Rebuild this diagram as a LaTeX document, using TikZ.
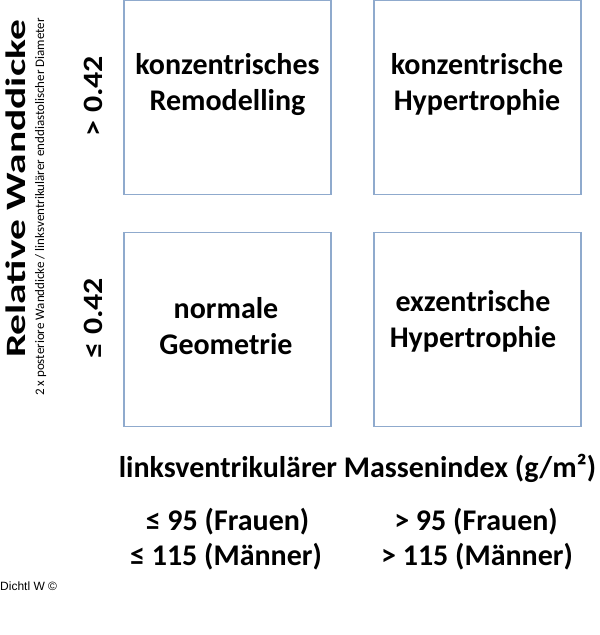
\documentclass[tikz,border=0pt]{standalone}
\usepackage{fontspec}
\setmainfont{Carlito}
\newfontfamily\arialfont{Liberation Sans}
\definecolor{boxblue}{RGB}{143,170,205}

\tikzset{
  geobox/.style={draw=boxblue, line width=1.2pt, minimum width=207pt,
    minimum height=194.5pt, inner sep=0pt},
  boxtext/.style={font=\bfseries\fontsize{30}{36}\selectfont, align=center,
    anchor=base, inner sep=0pt},
  axistext/.style={font=\bfseries\fontsize{30}{36}\selectfont, anchor=base,
    inner sep=0pt},
  sidetext/.style={font=\bfseries\fontsize{28}{34}\selectfont, anchor=base,
    inner sep=0pt, rotate=90},
  smalltext/.style={font=\fontsize{13}{15}\selectfont, anchor=base, inner sep=0pt}
}

\begin{document}
\begin{tikzpicture}[x=1pt,y=-1pt]
\useasboundingbox (0,0) rectangle (600,635);

% the four boxes
\coordinate (cTLPt) at (227.5,97.5);
\coordinate (cTRPt) at (477.5,97.5);
\coordinate (cBLPt) at (227.5,329.5);
\coordinate (cBRPt) at (477.5,329.5);
\foreach \v in {TL,TR,BL,BR}
{
    \node[geobox] (box\v) at (c\v Pt) {};
};

% texts in the boxes (base = last line)
\node[boxtext] (tTL) at (227.5,110) {konzentrisches\\Remodelling};
\node[boxtext] (tTR) at (477,110) {konzentrische\\Hypertrophie};
\node[boxtext] (tBL) at (226,354) {normale\\Geometrie};
\node[boxtext] (tBR) at (473,347) {exzentrische\\Hypertrophie};

% vertical axis
\node[sidetext, xscale=1.48] (yTitle) at (25,189) {Relative Wanddicke};
\node[smalltext, rotate=90] (yNote) at (44,207)
  {2 x posteriore Wanddicke / linksventrikulärer enddiastolischer Diameter};
\node[sidetext, xscale=1.14] (yHigh) at (102,96) {> 0.42};
\node[sidetext, xscale=1.14] (yLow) at (102,318) {≤ 0.42};

% horizontal axis
\node[axistext] (xTitle) at (357.5,477) {linksventrikulärer Massenindex (g/m²)};
\node[axistext] (xLowF) at (227.5,530) {≤ 95 (Frauen)};
\node[axistext] (xLowM) at (226,565) {≤ 115 (Männer)};
\node[axistext] (xHighF) at (476,530) {> 95 (Frauen)};
\node[axistext] (xHighM) at (477,565) {> 115 (Männer)};

\node[font=\arialfont\fontsize{12}{14}\selectfont, anchor=base west, inner sep=0pt]
  (credit) at (0,590) {Dichtl W ©};

\end{tikzpicture}
\end{document}
